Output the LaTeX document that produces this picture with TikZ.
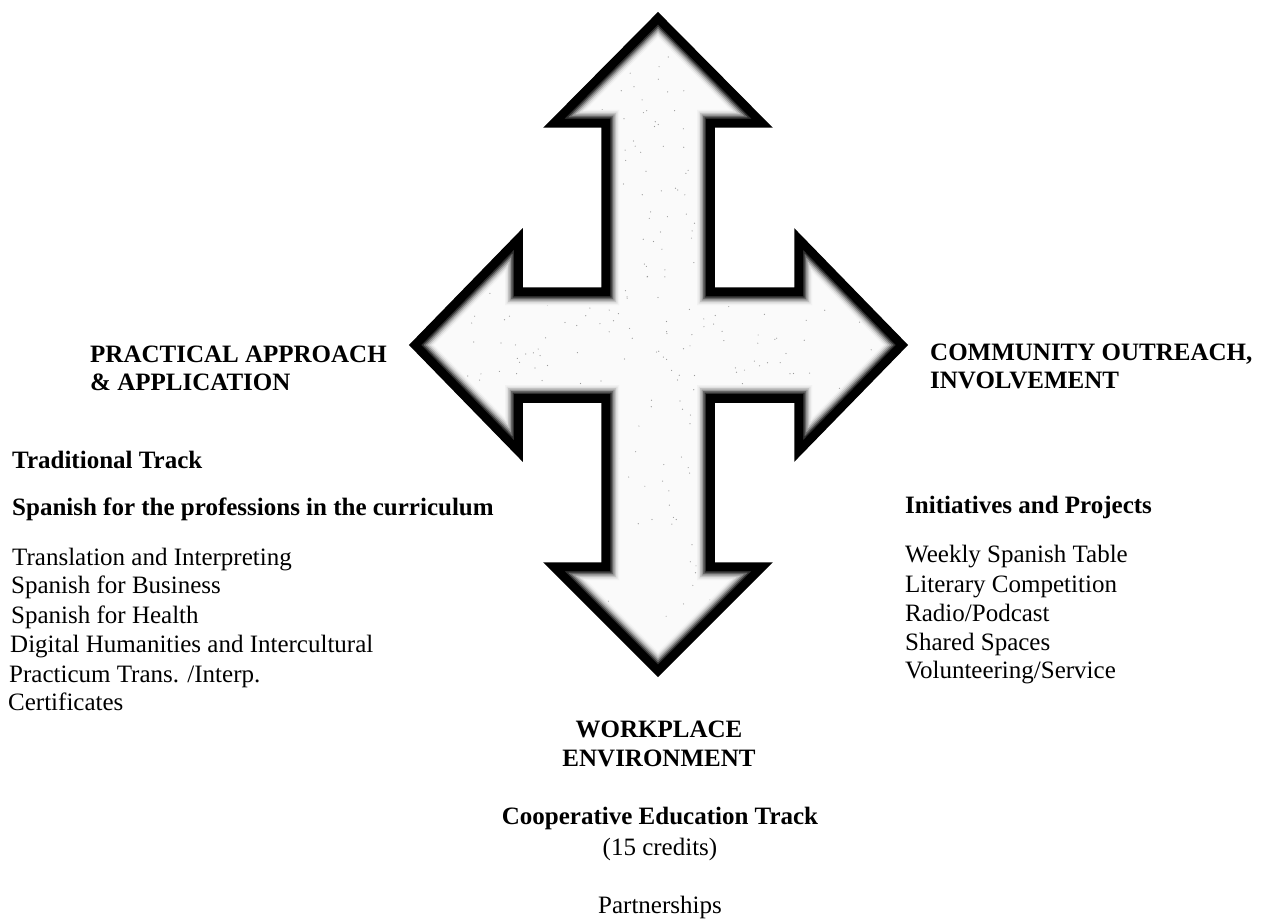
\documentclass[tikz,border=0pt]{standalone}
\usepackage{fontspec}
\setmainfont{Liberation Serif}
\newcommand\arrowshape[1]{\path[#1] (658,13) -- (771,127) -- (714,127) -- (714,288) -- (795,288) -- (795,230) -- (907,345) -- (795,460) -- (795,402) -- (714,402) -- (714,563) -- (771,563) -- (658,676) -- (545,563) -- (602,563) -- (602,402) -- (522,402) -- (522,460) -- (410,345) -- (522,230) -- (522,288) -- (602,288) -- (602,127) -- (545,127) -- cycle;}
\begin{document}
\begin{tikzpicture}[x=1pt,y=-1pt,
  lbl/.style={inner sep=0pt, font=\fontsize{25}{30}\selectfont},
  hd/.style={inner sep=0pt, font=\fontsize{25}{30}\selectfont\bfseries},
  edge/.style={line join=miter, miter limit=20}]
\useasboundingbox (0,0) rectangle (1263,920);
% four-way arrow
\begin{scope}
  \arrowshape{clip}
  \arrowshape{fill=black!2}
  \pgfmathsetseed{11}
  \foreach \i in {1,...,700}{
    \pgfmathsetmacro\rx{420+480*rnd}
    \pgfmathsetmacro\ry{20+650*rnd}
    \fill[black!40] (\rx,\ry) circle (0.6pt);
  }
  \arrowshape{draw=black!5, line width=34, edge}
  \arrowshape{draw=black!12, line width=31, edge}
  \arrowshape{draw=black!24, line width=28, edge}
  \arrowshape{draw=black!40, line width=25, edge}
  \arrowshape{draw=black!60, line width=22, edge}
  \arrowshape{draw=black!82, line width=19, edge}
  \arrowshape{draw=black, line width=16, edge}
\end{scope}
\arrowshape{draw=black, line width=1.5, edge}
% left texts
\node[hd, anchor=base west] (pa1) at (90,362) {PRACTICAL APPROACH};
\node[hd, anchor=base west] (pa2) at (90,390) {\& APPLICATION};
\node[hd, anchor=base west] (tt) at (12,468) {Traditional Track};
\node[hd, anchor=base west] (sp) at (12,515) {Spanish for the professions in the curriculum};
\node[lbl, anchor=base west] (l1) at (12,565) {Translation and Interpreting};
\node[lbl, anchor=base west] (l2) at (11,593) {Spanish for Business};
\node[lbl, anchor=base west] (l3) at (11,623) {Spanish for Health};
\node[lbl, anchor=base west] (l4) at (10,652) {Digital Humanities and Intercultural};
\node[lbl, anchor=base west] (l5) at (9,682) {Practicum Trans. /Interp.};
\node[lbl, anchor=base west] (l6) at (8,710) {Certificates};
% right texts
\node[hd, anchor=base west] (co1) at (930,360) {COMMUNITY OUTREACH,};
\node[hd, anchor=base west] (co2) at (930,388) {INVOLVEMENT};
\node[hd, anchor=base west] (ip) at (905,513) {Initiatives and Projects};
\node[lbl, anchor=base west] (r1) at (905,562) {Weekly Spanish Table};
\node[lbl, anchor=base west] (r2) at (905,592) {Literary Competition};
\node[lbl, anchor=base west] (r3) at (905,621) {Radio/Podcast};
\node[lbl, anchor=base west] (r4) at (905,650) {Shared Spaces};
\node[lbl, anchor=base west] (r5) at (905,678) {Volunteering/Service};
% bottom texts
\node[hd, anchor=base] (we1) at (659,737) {WORKPLACE};
\node[hd, anchor=base] (we2) at (659,766) {ENVIRONMENT};
\node[hd, anchor=base] (ce) at (660,824) {Cooperative Education Track};
\node[lbl, anchor=base] (cr) at (660,855) {(15 credits)};
\node[lbl, anchor=base] (pt) at (660,913) {Partnerships};
\end{tikzpicture}
\end{document}
